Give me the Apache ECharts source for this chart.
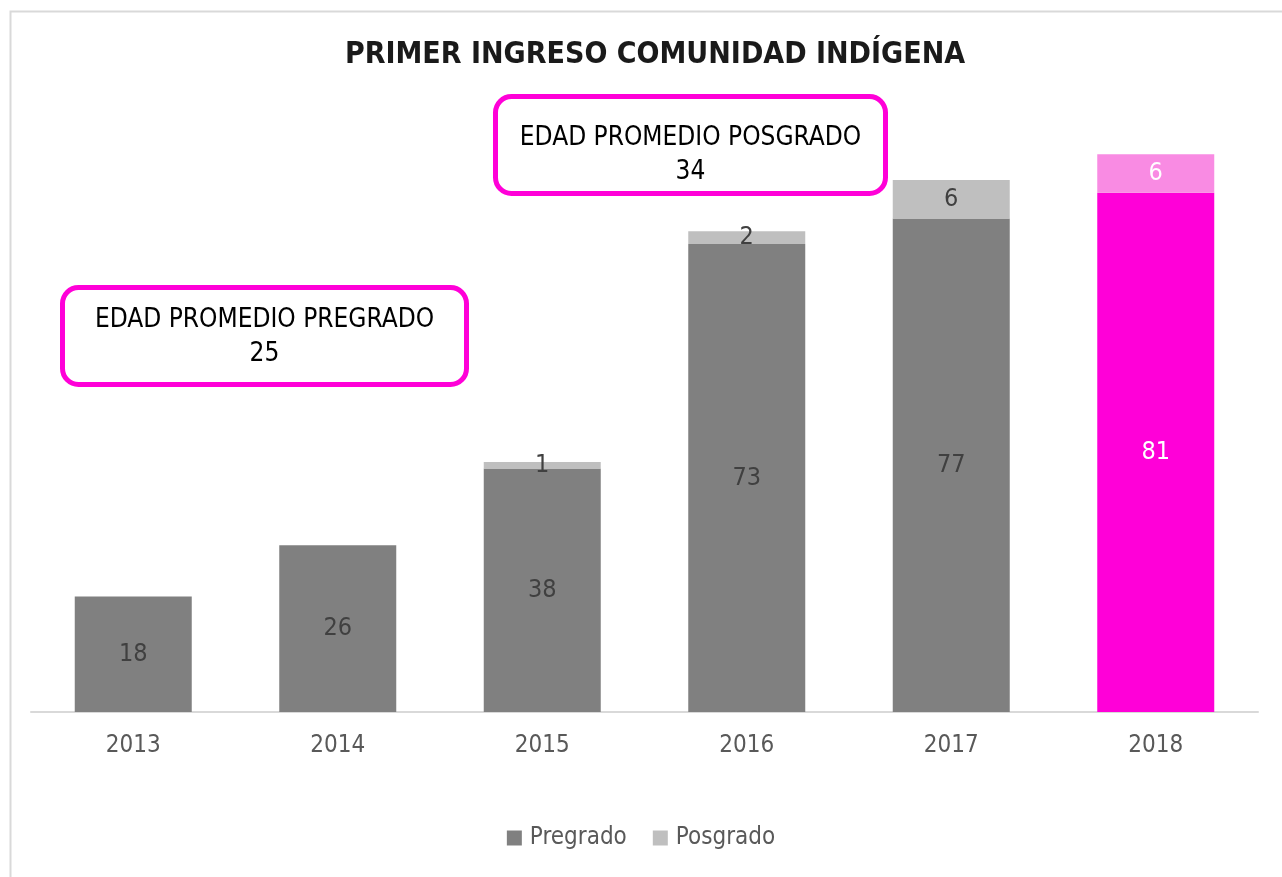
<!DOCTYPE html>
<html>
<head>
<meta charset="utf-8">
<script src="https://cdn.jsdelivr.net/npm/echarts@6/dist/echarts.min.js"></script>
<style>
  html, body { margin: 0; padding: 0; background: #fff; }
  #chart { width: 1282px; height: 877px; }
</style>
</head>
<body>
<div id="chart"></div>
<script>
var years = ['2013', '2014', '2015', '2016', '2017', '2018'];
var pregrado = [18, 26, 38, 73, 77, 81];
var posgrado = [null, null, 1, 2, 6, 6];
var edadPregrado = 25;
var edadPosgrado = 34;

var font = '"Liberation Sans Narrow", "DejaVu Sans Condensed", "Roboto", sans-serif';
var last = years.length - 1;

// the last year is highlighted in magenta
var preData = pregrado.map(function (v, i) {
  return i === last ? { value: v, itemStyle: { color: '#ff00d8' }, label: { color: '#ffffff' } } : v;
});
var posData = posgrado.map(function (v, i) {
  return i === last ? { value: v, itemStyle: { color: '#f98be3' }, label: { color: '#ffffff' } } : v;
});

function box(x, y, w, h, title, value, dy) {
  return {
    type: 'group', left: x, top: y,
    children: [
      { type: 'rect', shape: { x: 0, y: 0, width: w, height: h, r: 16 },
        style: { fill: '#fff', stroke: '#ff00d8', lineWidth: 5 } },
      { type: 'text', x: w / 2, y: h / 2 + dy,
        style: { text: title + '\n' + value, fill: '#000', font: '26px ' + font,
                 textAlign: 'center', textVerticalAlign: 'middle', lineHeight: 34 } }
    ]
  };
}

var chart = echarts.init(document.getElementById('chart'));
chart.setOption({
  animation: false,
  title: {
    text: 'PRIMER INGRESO COMUNIDAD INDÍGENA',
    left: 650, top: 35, textAlign: 'center',
    textStyle: { fontFamily: font, fontSize: 30, fontWeight: 'bold', color: '#1a1a1a' }
  },
  legend: {
    bottom: 22, left: 'center',
    itemWidth: 15, itemHeight: 15, itemGap: 26,
    icon: 'rect',
    textStyle: { fontFamily: font, fontSize: 24, color: '#595959', padding: [0, 0, 0, 3] },
    data: ['Pregrado', 'Posgrado']
  },
  grid: { left: 31, right: 24, top: 71, bottom: 165 },
  xAxis: {
    type: 'category', data: years,
    axisLine: { lineStyle: { color: '#d9d9d9', width: 2 } },
    axisTick: { show: false },
    axisLabel: { fontFamily: font, fontSize: 24, color: '#595959', margin: 22 }
  },
  yAxis: { type: 'value', min: 0, max: 100, show: false, splitLine: { show: false } },
  series: [
    {
      name: 'Pregrado', type: 'bar', stack: 'total', barWidth: 117,
      itemStyle: { color: '#808080' },
      label: { show: true, position: 'inside', fontFamily: font, fontSize: 25, color: '#404040' },
      data: preData
    },
    {
      name: 'Posgrado', type: 'bar', stack: 'total', barWidth: 117,
      itemStyle: { color: '#bfbfbf' },
      label: { show: true, position: 'inside', fontFamily: font, fontSize: 25, color: '#404040' },
      data: posData
    }
  ],
  graphic: [
    { type: 'rect', left: 8, top: 9, shape: { width: 1300, height: 900 },
      style: { fill: 'none', stroke: '#d9d9d9', lineWidth: 2 }, z: -1 },
    box(60, 285, 404, 97, 'EDAD PROMEDIO PREGRADO', edadPregrado, 1),
    box(493, 94, 390, 97, 'EDAD PROMEDIO POSGRADO', edadPosgrado, 10)
  ]
});
</script>
</body>
</html>
